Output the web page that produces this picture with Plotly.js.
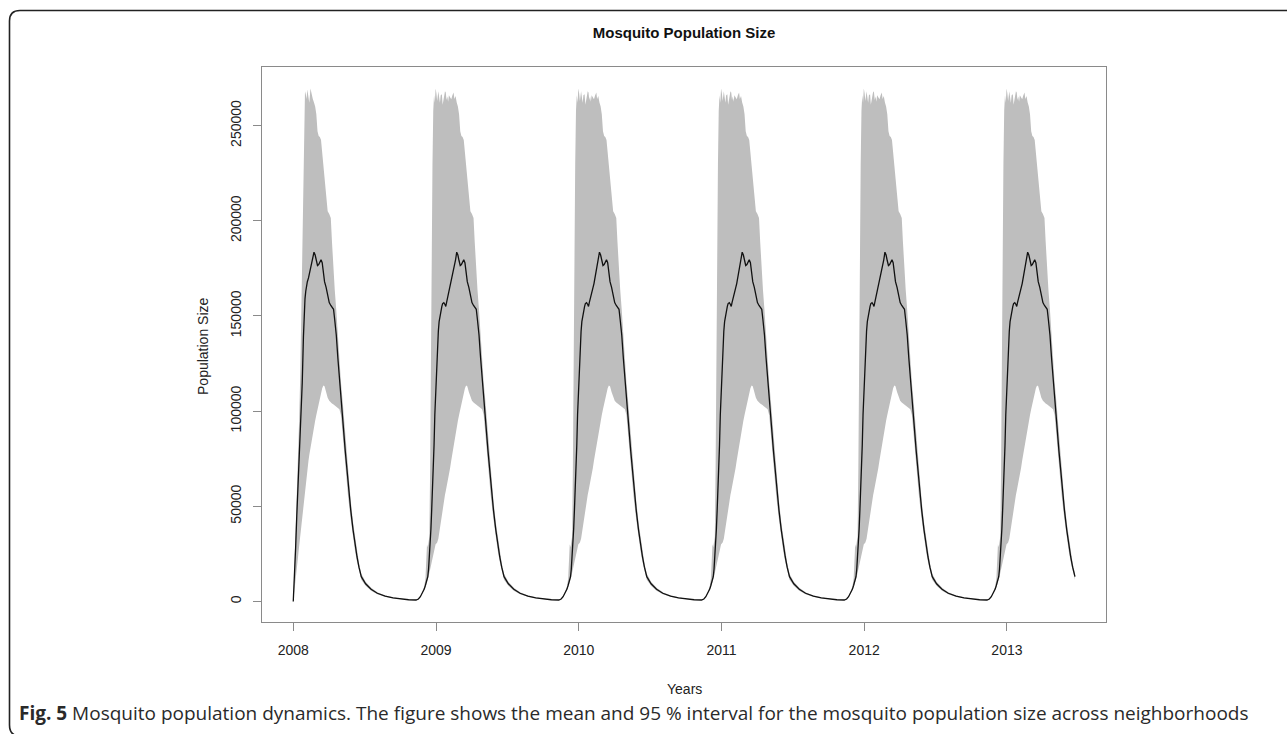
<!DOCTYPE html>
<html>
<head>
<meta charset="utf-8">
<script src="https://cdn.plot.ly/plotly-3.0.1.min.js"></script>
<style>
html,body{margin:0;padding:0;background:#fff;}
#chart{width:1287px;height:734px;}
</style>
</head>
<body>
<div id="chart"></div>
<script>
// ---------------- DATA ----------------
const years = [2008, 2009, 2010, 2011, 2012, 2013];
const yTicks = [0, 50000, 100000, 150000, 200000, 250000];
const yTickText = ["0", "50000", "100000", "150000", "200000", "250000"];

// First season of 2008 (simulation starts at zero on 1 January 2008), day of year
const startDay   = [0, 3, 6, 9, 12, 15, 18, 21, 23, 26, 28, 30, 32, 34, 36, 39, 41, 44, 47, 50, 53];
const startMean  = [0, 12000, 28000, 45000, 60000, 72000, 85000, 98000, 115000, 139000, 152000, 159000, 163000, 166000, 168000, 170000, 172000, 175500, 178000, 180500, 183500];
const startLower = [0, 5000, 11000, 17000, 23000, 29000, 35000, 40000, 44000, 50000, 54000, 58000, 62000, 66000, 69000, 74000, 77000, 81000, 85000, 88000, 91000];
const startUpper = [0, 18000, 40000, 62000, 80000, 95000, 120000, 160000, 185000, 230000, 258000, 268000, 266500, 264000, 269000, 265000, 262000, 269500, 266000, 264000, 262100];

// Repeating yearly season, day relative to 1 January of the year
const seasonDay = [-50, -45, -40, -35, -30, -27, -25, -23, -21, -19, -17, -15, -13, -11, -9, -7, -5, -3, -1, 1, 3, 6, 8, 10, 12, 15, 17, 20, 23, 25, 27, 29, 31, 33, 36, 39, 42, 45, 47, 50, 53, 56, 59, 62, 65, 68, 71, 74, 77, 80, 84, 88, 92, 96, 99, 103, 106, 110, 114, 118, 122, 126, 133, 140, 147, 153, 158, 163, 168, 174, 185, 199, 215, 235, 255, 275, 295, 314];
const seasonMean = [800, 1300, 2500, 4400, 6500, 8500, 10000, 11500, 13000, 17000, 23000, 30000, 38000, 48000, 58000, 70000, 82000, 98000, 110000, 120000, 130000, 142000, 147000, 150000, 153000, 155000, 156500, 157000, 156000, 155000, 157000, 159000, 160500, 162000, 164500, 167000, 170500, 174000, 176000, 179500, 183500, 182000, 179000, 176500, 177000, 178500, 179500, 178000, 173000, 168000, 165000, 160000, 157000, 155500, 154500, 153500, 148000, 140000, 128000, 116000, 106000, 97000, 79000, 62000, 48000, 37500, 30000, 23500, 18000, 13000, 9300, 6400, 4300, 2800, 1900, 1300, 900, 750];
const seasonLower = [700, 1150, 2250, 4000, 5900, 7500, 8800, 10000, 11500, 13000, 15000, 17000, 19000, 21000, 23000, 25000, 27000, 29000, 30000, 30500, 31000, 33000, 36000, 39000, 42000, 46000, 48000, 52000, 56000, 58000, 60000, 62000, 64000, 66000, 70000, 74000, 78000, 82000, 84000, 87000, 91000, 95000, 98000, 101000, 104000, 107000, 110000, 112000, 113500, 113000, 110000, 107000, 105500, 104500, 104000, 103500, 103000, 102500, 102000, 101000, 98000, 88000, 71000, 55500, 43000, 33500, 26500, 20800, 15800, 11400, 8200, 5600, 3800, 2450, 1650, 1130, 790, 660];
const seasonUpper = [900, 1450, 2800, 4900, 8000, 12000, 25000, 30000, 28500, 32000, 34000, 70000, 140000, 190000, 230000, 258000, 266000, 262000, 269500, 267000, 263000, 268000, 265500, 262000, 266000, 266500, 261000, 264200, 268000, 267400, 263500, 265300, 262500, 265900, 264500, 263800, 266000, 267400, 264000, 265600, 262100, 260000, 256000, 247000, 244500, 244000, 242500, 236000, 228000, 220000, 212000, 205000, 203500, 201500, 189000, 173000, 164000, 153000, 138000, 125000, 115000, 106000, 87000, 68500, 53000, 41500, 33500, 26200, 20200, 14600, 10400, 7200, 4800, 3150, 2150, 1470, 1010, 840];

const lastDay2013 = 174;   // the series stops mid-2013

// ---------------- BUILD SERIES ----------------
const X = [], M = [], LO = [], UP = [];
function push(year, d, m, lo, up) {
  X.push(year + d / 365); M.push(m); LO.push(lo); UP.push(up);
}
years.forEach(function (yr, k) {
  if (k === 0) {
    for (let i = 0; i < startDay.length; i++) push(yr, startDay[i], startMean[i], startLower[i], startUpper[i]);
    for (let i = 0; i < seasonDay.length; i++) {
      if (seasonDay[i] > startDay[startDay.length - 1]) push(yr, seasonDay[i], seasonMean[i], seasonLower[i], seasonUpper[i]);
    }
  } else {
    for (let i = 0; i < seasonDay.length; i++) {
      if (k === years.length - 1 && seasonDay[i] > lastDay2013) break;
      push(yr, seasonDay[i], seasonMean[i], seasonLower[i], seasonUpper[i]);
    }
  }
});

// ---------------- PLOT ----------------
const FONT = "Liberation Sans, Arial, Helvetica, sans-serif";
const L = 262, R = 181, T = 67, B = 112, W = 1287, H = 734;
const PW = W - L - R, PH = H - T - B;
function px(x) { return ((x - L) / PW).toFixed(5); }
function py(y) { return ((H - B - y) / PH).toFixed(5); }

const borderPath =
  "M " + px(1300) + "," + py(10.5) +
  " L " + px(20) + "," + py(10.5) +
  " Q " + px(9.5) + "," + py(10.5) + " " + px(9.5) + "," + py(21) +
  " L " + px(9.5) + "," + py(725) +
  " Q " + px(9.5) + "," + py(736) + " " + px(20) + "," + py(736) +
  " L " + px(1300) + "," + py(736);

const traces = [
  { x: X, y: LO, mode: "lines", line: { width: 0, color: "#bebebe" }, hoverinfo: "skip", showlegend: false },
  { x: X, y: UP, mode: "lines", line: { width: 0, color: "#bebebe" }, fill: "tonexty", fillcolor: "#bebebe", hoverinfo: "skip", showlegend: false },
  { x: X, y: M, mode: "lines", line: { width: 1.3, color: "#111" }, showlegend: false }
];

const axisCommon = {
  showgrid: false, zeroline: false, showline: true, mirror: true,
  linecolor: "#8a8a8a", linewidth: 1, ticks: "outside", ticklen: 8,
  tickcolor: "#8a8a8a", tickwidth: 1,
  tickfont: { family: FONT, size: 14, color: "#222" }
};

const layout = {
  width: W, height: H,
  margin: { l: L, r: R, t: T, b: B, pad: 0 },
  paper_bgcolor: "#fff", plot_bgcolor: "#fff",
  showlegend: false,
  title: {
    text: "<b>Mosquito Population Size</b>",
    font: { family: FONT, size: 15, color: "#111" },
    xref: "paper", x: 0.5, xanchor: "center",
    yref: "container", y: 1 - 33 / H, yanchor: "middle"
  },
  xaxis: Object.assign({}, axisCommon, {
    range: [2007.781, 2013.694],
    tickmode: "array", tickvals: years, ticktext: years.map(String),
    ticklabelstandoff: 7
  }),
  yaxis: Object.assign({}, axisCommon, {
    range: [-10800, 280800],
    tickmode: "array", tickvals: yTicks, ticktext: yTickText,
    tickangle: -90, ticklabelstandoff: 6
  }),
  annotations: [
    { text: "Population Size", textangle: -90, xref: "paper", yref: "paper",
      x: px(203), y: py(346), xanchor: "center", yanchor: "middle", showarrow: false,
      font: { family: FONT, size: 14, color: "#222" } },
    { text: "Years", xref: "paper", yref: "paper",
      x: px(684), y: py(689), xanchor: "center", yanchor: "middle", showarrow: false,
      font: { family: FONT, size: 14, color: "#222" } },
    { text: "<b>Fig. 5</b> Mosquito population dynamics. The figure shows the mean and 95 % interval for the mosquito population size across neighborhoods",
      xref: "paper", yref: "paper", x: px(17), y: py(713), xanchor: "left", yanchor: "middle",
      showarrow: false, align: "left",
      font: { family: "Open Sans, Noto Sans, sans-serif", size: 19, color: "#2a2a2a" } }
  ],
  shapes: [
    { type: "path", xref: "paper", yref: "paper", path: borderPath,
      line: { color: "#222", width: 1.6 }, layer: "above" }
  ]
};

Plotly.newPlot("chart", traces, layout, { displayModeBar: false, staticPlot: true });
</script>
</body>
</html>
